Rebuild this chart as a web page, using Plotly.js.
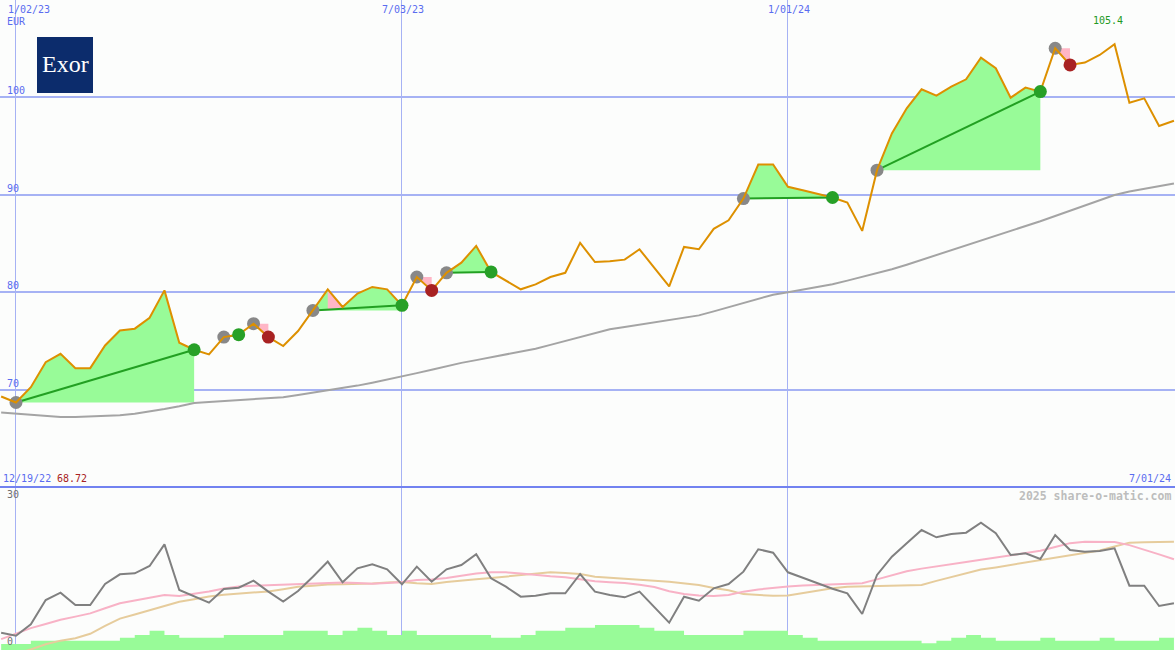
<!DOCTYPE html>
<html><head><meta charset="utf-8">
<script src="https://cdn.plot.ly/plotly-3.0.1.min.js"></script>
<style>html,body{margin:0;padding:0;background:#fcfdfc;}#chart{width:1175px;height:650px;}</style>
</head><body><div id="chart"></div>
<script>
// ---------- data ----------
const weeks = ['2022-12-26','2023-01-02','2023-01-09','2023-01-16','2023-01-23','2023-01-30','2023-02-06','2023-02-13','2023-02-20','2023-02-27',
'2023-03-06','2023-03-13','2023-03-20','2023-03-27','2023-04-03','2023-04-10','2023-04-17','2023-04-24','2023-05-01','2023-05-08',
'2023-05-15','2023-05-22','2023-05-29','2023-06-05','2023-06-12','2023-06-19','2023-06-26','2023-07-03','2023-07-10','2023-07-17',
'2023-07-24','2023-07-31','2023-08-07','2023-08-14','2023-08-21','2023-08-28','2023-09-04','2023-09-11','2023-09-18','2023-09-25',
'2023-10-02','2023-10-09','2023-10-16','2023-10-23','2023-10-30','2023-11-06','2023-11-13','2023-11-20','2023-11-27','2023-12-04',
'2023-12-11','2023-12-18','2023-12-25','2024-01-01','2024-01-08','2024-01-15','2024-01-22','2024-01-29','2024-02-05','2024-02-12',
'2024-02-19','2024-02-26','2024-03-04','2024-03-11','2024-03-18','2024-03-25','2024-04-01','2024-04-08','2024-04-15','2024-04-22',
'2024-04-29','2024-05-06','2024-05-13','2024-05-20','2024-05-27','2024-06-03','2024-06-10','2024-06-17','2024-06-24','2024-07-01'];

const price = [69.33,68.72,70.29,72.85,73.71,72.24,72.24,74.56,76.10,76.28,
77.40,80.20,74.84,74.12,73.64,75.42,75.67,76.79,75.42,74.50,
76.04,78.15,80.31,78.50,79.87,80.55,80.31,78.67,81.57,80.20,
82.00,83.04,84.75,82.09,81.23,80.31,80.82,81.57,82.00,85.07,
83.10,83.18,83.35,84.41,82.50,80.62,84.65,84.41,86.50,87.38,
89.60,93.09,93.09,90.80,90.46,90.12,89.71,89.20,86.29,92.51,
96.27,98.84,100.79,100.14,101.06,101.81,104.03,102.94,99.93,100.96,
100.55,104.99,103.28,103.52,104.30,105.40,99.42,99.86,97.03,97.57];

const movingAvg = [67.71,67.58,67.43,67.31,67.24,67.23,67.27,67.31,67.42,67.57,
67.78,68.05,68.34,68.67,68.76,68.85,68.96,69.06,69.16,69.27,
69.50,69.72,69.96,70.18,70.45,70.75,71.06,71.38,71.73,72.08,
72.44,72.78,73.06,73.35,73.63,73.92,74.23,74.62,75.03,75.43,
75.82,76.21,76.45,76.69,76.92,77.16,77.40,77.64,78.05,78.47,
78.90,79.34,79.76,80.00,80.28,80.55,80.83,81.20,81.59,81.97,
82.36,82.83,83.32,83.81,84.28,84.79,85.29,85.78,86.29,86.79,
87.28,87.82,88.36,88.90,89.44,89.97,90.32,90.60,90.87,91.15];

const oscillator = [3.12,2.51,4.83,9.80,11.29,8.78,8.78,13.06,15.03,15.24,
16.73,21.16,11.84,10.61,9.25,12.04,12.31,13.74,11.50,9.46,
11.63,14.56,17.62,13.40,16.27,17.08,16.06,13.00,16.60,13.53,
16.06,16.94,19.12,14.22,12.51,10.47,10.67,11.16,11.16,15.10,
11.50,10.82,10.34,11.50,8.30,5.17,10.47,9.66,12.18,13.06,
15.58,20.14,19.46,15.45,14.35,13.22,12.10,11.16,6.94,14.90,
18.63,21.37,24.08,22.59,23.27,23.53,25.57,23.41,18.98,19.32,
18.16,23.06,20.00,19.65,19.80,20.35,12.71,12.71,8.57,9.12];

const oscFast = [1.80,2.90,4.05,4.90,5.75,6.40,7.07,8.10,9.12,9.70,
10.27,10.80,10.61,11.05,11.55,12.15,12.55,12.70,12.80,12.95,
13.05,13.20,13.30,13.38,13.25,13.10,13.25,13.45,13.88,14.00,
14.30,14.80,15.20,15.45,15.45,15.20,14.85,14.65,14.45,14.00,
13.60,13.40,13.25,12.90,12.45,11.60,11.00,10.70,10.60,10.80,
11.50,11.95,12.30,12.55,12.75,12.90,13.00,13.10,13.20,14.00,
14.85,15.65,16.20,16.70,17.10,17.55,18.00,18.50,18.95,19.40,
19.85,20.60,21.40,21.70,21.70,21.65,21.00,20.10,19.10,18.10];

const oscSlow = [-2.00,-1.20,-0.30,0.75,1.50,2.00,2.90,4.50,6.00,6.85,
7.76,8.60,9.45,9.95,10.50,10.85,11.10,11.30,11.55,12.00,
12.50,12.70,12.95,13.00,13.05,13.15,13.35,13.45,13.20,13.05,
13.45,13.80,14.05,14.30,14.55,14.90,15.20,15.45,15.30,15.10,
14.55,14.30,14.10,13.90,13.70,13.50,13.15,12.85,12.25,11.80,
11.00,10.75,10.65,10.70,11.20,11.70,12.20,12.50,12.60,12.70,
12.75,12.80,12.86,13.70,14.50,15.30,16.00,16.45,16.95,17.45,
17.90,18.50,19.00,19.40,19.90,20.70,21.50,21.60,21.70,21.70];

const volume = [0.60,0.60,0.93,0.93,0.93,0.93,0.93,0.93,1.23,1.50,
1.93,1.50,1.23,1.23,1.23,1.50,1.50,1.50,1.50,1.93,
1.93,1.93,1.50,1.93,2.23,1.93,1.50,1.93,1.50,1.50,
1.50,1.50,1.50,1.23,1.23,1.50,1.93,1.93,2.23,2.23,
2.50,2.50,2.50,2.23,1.93,1.93,1.50,1.50,1.50,1.50,
1.93,1.93,1.93,1.50,1.23,0.93,0.93,0.93,0.93,0.93,
0.93,0.93,0.67,0.93,1.23,1.50,1.23,0.93,0.93,0.93,
1.23,0.93,0.93,0.93,1.23,0.93,0.93,0.93,1.23,1.23];

// trades: index into weeks
const tradeEntry = [1,15,17,21,28,30,50,59,71];
const tradeExit  = [13,16,18,27,29,33,56,70,72];
const lossSegments = [[22,23]];

const xTickDates = ['2023-01-02','2023-07-03','2024-01-01'];
const xTickLabels = ['1/02/23','7/03/23','1/01/24'];
const yTickVals = [70,80,90,100];
const lowerTickVals = [30,0];
const currency = 'EUR';
const company = 'Exor';
const startLabel = '12/19/22';
const endLabel = '7/01/24';
const credit = '2025 share-o-matic.com';

// ---------- style ----------
const W = 1175, H = 650, SPLIT = 487;
const BG = '#fcfdfc', GRID = '#a6b2f4', SEP = '#7282f0', BLUE = '#5a6cf0';
const GREENFILL = '#98fb98', PINK = '#ffb6c6', ORANGE = '#dd9000';
const MONO = 'DejaVu Sans Mono, monospace';

const traces = [];
// trade fills
tradeEntry.forEach((e, t) => {
  const x = tradeExit[t], base = price[e];
  const win = price[x] >= base;
  const xs = weeks.slice(e, x + 1).concat([weeks[x], weeks[e]]);
  const ys = price.slice(e, x + 1).concat([base, base]);
  traces.push({x: xs, y: ys, type: 'scatter', mode: 'lines', fill: 'toself',
    fillcolor: win ? GREENFILL : PINK, line: {width: 0, color: 'rgba(0,0,0,0)'}, xaxis: 'x', yaxis: 'y'});
});
// loss segments inside trades (between price and trend line)
lossSegments.forEach(([a, b]) => {
  const t = tradeEntry.findIndex((e, i) => e <= a && tradeExit[i] >= b);
  const e = tradeEntry[t], x = tradeExit[t];
  const trend = i => price[e] + (price[x] - price[e]) * (i - e) / (x - e);
  traces.push({x: [weeks[a], weeks[b], weeks[b], weeks[a]], y: [price[a], price[b], trend(b), trend(a)],
    type: 'scatter', mode: 'lines', fill: 'toself', fillcolor: PINK,
    line: {width: 0, color: 'rgba(0,0,0,0)'}, xaxis: 'x', yaxis: 'y'});
});
// trend lines for winning trades
tradeEntry.forEach((e, t) => {
  const x = tradeExit[t];
  if (price[x] >= price[e]) {
    traces.push({x: [weeks[e], weeks[x]], y: [price[e], price[x]], type: 'scatter', mode: 'lines',
      line: {color: '#22a022', width: 2}, xaxis: 'x', yaxis: 'y'});
  }
});
// moving average
traces.push({x: weeks, y: movingAvg, type: 'scatter', mode: 'lines', line: {color: '#a4a4a4', width: 2}, xaxis: 'x', yaxis: 'y'});
// entry markers
traces.push({x: tradeEntry.map(i => weeks[i]), y: tradeEntry.map(i => price[i]), type: 'scatter', mode: 'markers',
  marker: {color: '#888888', size: 13}, xaxis: 'x', yaxis: 'y'});
// price
traces.push({x: weeks, y: price, type: 'scatter', mode: 'lines', line: {color: ORANGE, width: 2}, xaxis: 'x', yaxis: 'y'});
// exit markers
const wins = tradeExit.filter((x, t) => price[x] >= price[tradeEntry[t]]);
const losses = tradeExit.filter((x, t) => price[x] < price[tradeEntry[t]]);
traces.push({x: wins.map(i => weeks[i]), y: wins.map(i => price[i]), type: 'scatter', mode: 'markers',
  marker: {color: '#27a027', size: 13}, xaxis: 'x', yaxis: 'y'});
traces.push({x: losses.map(i => weeks[i]), y: losses.map(i => price[i]), type: 'scatter', mode: 'markers',
  marker: {color: '#a82222', size: 13}, xaxis: 'x', yaxis: 'y'});

// lower panel
traces.push({x: weeks, y: volume, type: 'scatter', mode: 'lines', line: {shape: 'hv', width: 0, color: 'rgba(0,0,0,0)'},
  fill: 'tozeroy', fillcolor: GREENFILL, xaxis: 'x', yaxis: 'y2'});
traces.push({x: weeks, y: oscSlow, type: 'scatter', mode: 'lines', line: {color: '#e6cc9c', width: 2}, xaxis: 'x', yaxis: 'y3'});
traces.push({x: weeks, y: oscFast, type: 'scatter', mode: 'lines', line: {color: '#f8b2c6', width: 2}, xaxis: 'x', yaxis: 'y3'});
traces.push({x: weeks, y: oscillator, type: 'scatter', mode: 'lines', line: {color: '#808080', width: 2}, xaxis: 'x', yaxis: 'y3'});

// ---------- annotations ----------
const py = y => 1 - y / H, pxp = x => x / W;
const annotations = [];
xTickDates.forEach((d, i) => {
  annotations.push({xref: 'x', yref: 'paper', x: d, y: py(9.5), text: xTickLabels[i], showarrow: false,
    xanchor: i === 0 ? 'left' : 'center', xshift: i === 0 ? -10 : 1, yanchor: 'middle',
    font: {family: MONO, size: 10, color: BLUE}});
});
annotations.push({xref: 'paper', yref: 'paper', x: pxp(5), y: py(21.5), text: currency, showarrow: false,
  xanchor: 'left', yanchor: 'middle', font: {family: MONO, size: 10, color: BLUE}});
yTickVals.forEach(v => {
  annotations.push({xref: 'paper', yref: 'y', x: pxp(5), y: v, text: String(v), showarrow: false,
    xanchor: 'left', yanchor: 'bottom', yshift: -1, font: {family: MONO, size: 10, color: BLUE}});
});
const maxI = price.indexOf(Math.max(...price));
annotations.push({xref: 'x', yref: 'paper', x: weeks[maxI], y: py(21), text: price[maxI].toFixed(1), showarrow: false,
  xanchor: 'center', xshift: -7, yanchor: 'middle', font: {family: MONO, size: 10, color: '#229922'}});
const minV = Math.min(...price);
annotations.push({xref: 'paper', yref: 'paper', x: pxp(1), y: py(478.5), text: startLabel, showarrow: false,
  xanchor: 'left', yanchor: 'middle', font: {family: MONO, size: 10, color: BLUE}});
annotations.push({xref: 'paper', yref: 'paper', x: pxp(55), y: py(478.5), text: minV.toFixed(2), showarrow: false,
  xanchor: 'left', yanchor: 'middle', font: {family: MONO, size: 10, color: '#a82222'}});
annotations.push({xref: 'paper', yref: 'paper', x: pxp(1173), y: py(478.5), text: endLabel, showarrow: false,
  xanchor: 'right', yanchor: 'middle', font: {family: MONO, size: 10, color: BLUE}});
annotations.push({xref: 'paper', yref: 'paper', x: pxp(1173), y: py(496), text: '<b>' + credit + '</b>', showarrow: false,
  xanchor: 'right', yanchor: 'middle', font: {family: MONO, size: 11.5, color: '#bdbdbd'}});
lowerTickVals.forEach(v => {
  annotations.push({xref: 'paper', yref: 'y3', x: pxp(5), y: v, text: String(v), showarrow: false,
    xanchor: 'left', yanchor: 'bottom', yshift: -1, font: {family: MONO, size: 10, color: '#707070'}});
});
annotations.push({xref: 'paper', yref: 'paper', x: pxp(65), y: py(63.5), text: company, showarrow: false,
  xanchor: 'center', yanchor: 'middle', font: {family: 'Liberation Serif, serif', size: 24, color: '#ffffff'}});

const shapes = [
  {type: 'rect', xref: 'paper', yref: 'paper', x0: pxp(37), x1: pxp(93), y0: py(93), y1: py(37),
   fillcolor: '#0c2c6c', line: {width: 0}, layer: 'above'},
  {type: 'line', xref: 'paper', yref: 'paper', x0: 0, x1: 1, y0: py(SPLIT), y1: py(SPLIT),
   line: {color: SEP, width: 2}, layer: 'above'}
];

const layout = {
  width: W, height: H, margin: {l: 0, r: 0, t: 0, b: 0, pad: 0},
  paper_bgcolor: BG, plot_bgcolor: BG, showlegend: false, hovermode: false,
  xaxis: {type: 'date', range: ['2022-12-25 11:00', '2024-07-01 12:00'], domain: [0, 1], anchor: 'y2',
    tickvals: xTickDates, showticklabels: false, ticks: '', showgrid: true, gridcolor: GRID, gridwidth: 1,
    zeroline: false, showline: false},
  yaxis: {domain: [py(SPLIT), 1], range: [60.07, 109.93], tickvals: yTickVals, showticklabels: false, ticks: '',
    showgrid: true, gridcolor: GRID, gridwidth: 2, zeroline: false, showline: false, anchor: 'x'},
  yaxis2: {domain: [0, py(SPLIT + 1)], range: [0, 16.2], showgrid: false, showticklabels: false, ticks: '',
    zeroline: false, showline: false, anchor: 'x'},
  yaxis3: {overlaying: 'y2', range: [-0.408, 32.653], showgrid: false, showticklabels: false, ticks: '',
    zeroline: false, showline: false, anchor: 'x'},
  annotations: annotations, shapes: shapes
};

Plotly.newPlot('chart', traces, layout, {staticPlot: true, displayModeBar: false});
</script></body></html>
